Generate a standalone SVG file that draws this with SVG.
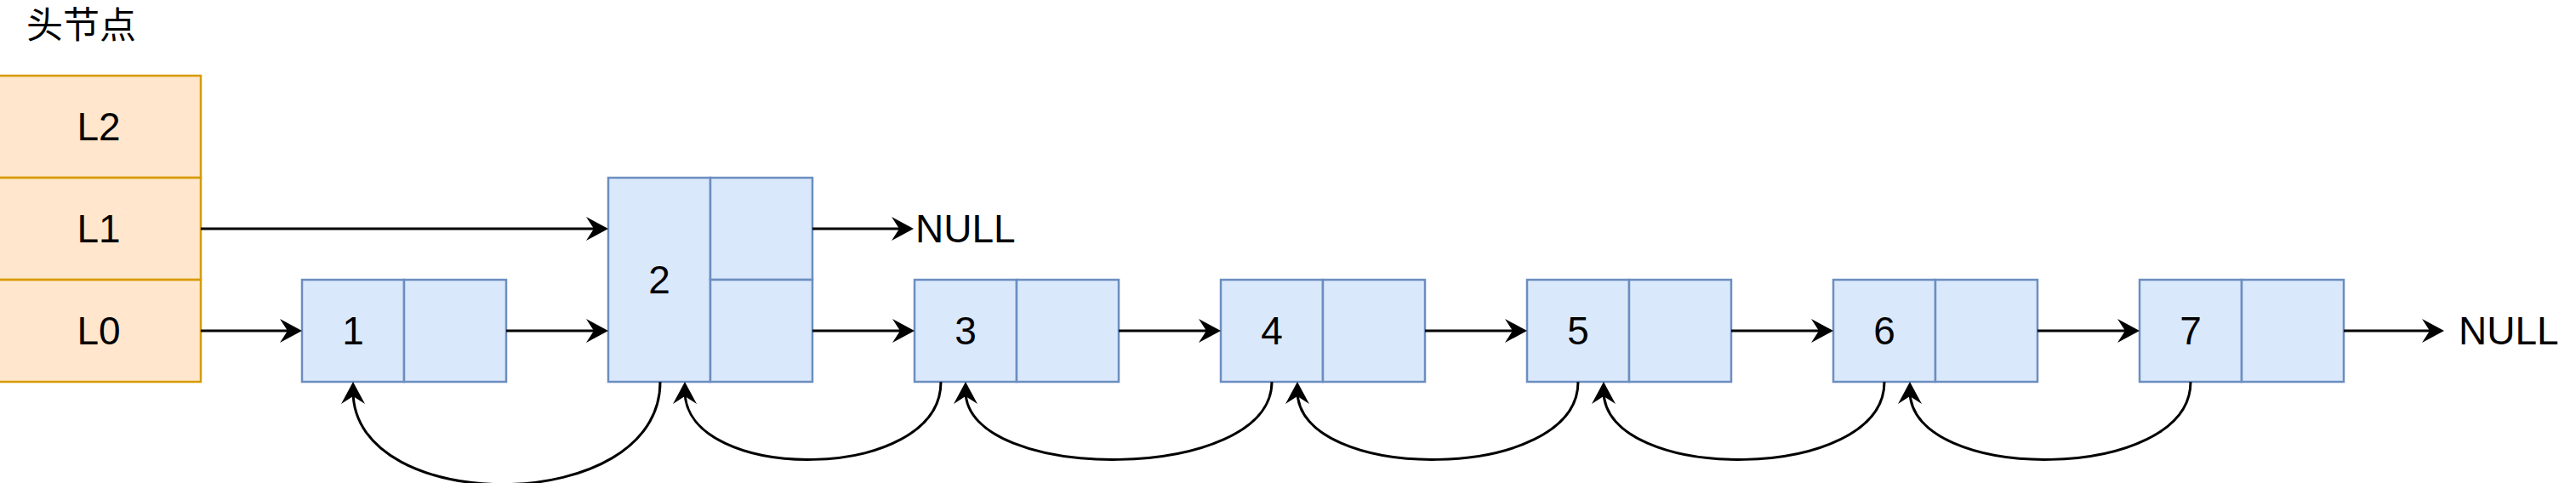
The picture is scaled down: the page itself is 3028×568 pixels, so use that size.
<svg xmlns="http://www.w3.org/2000/svg" width="3028" height="568" viewBox="0 0 3028 568">
<style>
.head{fill:#ffe6cc;stroke:#d79b00;stroke-width:2.5}
.cell{fill:#dae8fc;stroke:#6c8ebf;stroke-width:2.5}
.t{font-family:"Liberation Sans",Arial,sans-serif;font-size:46px;fill:#000;text-anchor:middle}
.tl{font-family:"Liberation Sans",Arial,sans-serif;font-size:46px;fill:#000}
.cn{fill:none;stroke:#000;stroke-width:3}
</style>
<defs>
<marker id="arr" markerUnits="userSpaceOnUse" markerWidth="27" markerHeight="30" refX="15" refY="15" orient="auto">
<path d="M0,1 L26,15 L0,29 L9,15 Z" fill="#000"/>
</marker>
</defs>
<rect width="3028" height="568" fill="#fff"/>
<text x="31" y="45" style="font-family:'Noto Sans CJK SC','Noto Sans',sans-serif;font-size:43px;fill:#000">头节点</text>
<g id="head">
<rect class="head" x="-4" y="89" width="240" height="120"/>
<rect class="head" x="-4" y="209" width="240" height="120"/>
<rect class="head" x="-4" y="329" width="240" height="120"/>
<text class="t" x="116" y="165">L2</text>
<text class="t" x="116" y="285">L1</text>
<text class="t" x="116" y="405">L0</text>
</g>
<g id="node1">
<rect class="cell" x="355" y="329" width="120" height="120"/>
<rect class="cell" x="475" y="329" width="120" height="120"/>
<text class="t" x="415" y="405">1</text>
</g>
<g id="node2">
<rect class="cell" x="715" y="209" width="120" height="240"/>
<rect class="cell" x="835" y="209" width="120" height="120"/>
<rect class="cell" x="835" y="329" width="120" height="120"/>
<text class="t" x="775" y="345">2</text>
</g>
<g id="node3">
<rect class="cell" x="1075" y="329" width="120" height="120"/>
<rect class="cell" x="1195" y="329" width="120" height="120"/>
<text class="t" x="1135" y="405">3</text>
</g>
<g id="node4">
<rect class="cell" x="1435" y="329" width="120" height="120"/>
<rect class="cell" x="1555" y="329" width="120" height="120"/>
<text class="t" x="1495" y="405">4</text>
</g>
<g id="node5">
<rect class="cell" x="1795" y="329" width="120" height="120"/>
<rect class="cell" x="1915" y="329" width="120" height="120"/>
<text class="t" x="1855" y="405">5</text>
</g>
<g id="node6">
<rect class="cell" x="2155" y="329" width="120" height="120"/>
<rect class="cell" x="2275" y="329" width="120" height="120"/>
<text class="t" x="2215" y="405">6</text>
</g>
<g id="node7">
<rect class="cell" x="2515" y="329" width="120" height="120"/>
<rect class="cell" x="2635" y="329" width="120" height="120"/>
<text class="t" x="2575" y="405">7</text>
</g>
<g id="null1"><text class="tl" x="1076" y="285">NULL</text></g>
<g id="null2"><text class="tl" x="2890" y="405">NULL</text></g>
<g id="connectors">
<path class="cn" marker-end="url(#arr)" d="M236,269 H704"/>
<path class="cn" marker-end="url(#arr)" d="M236,389 H344"/>
<path class="cn" marker-end="url(#arr)" d="M595,389 H704"/>
<path class="cn" marker-end="url(#arr)" d="M955,269 H1063"/>
<path class="cn" marker-end="url(#arr)" d="M955,389 H1064"/>
<path class="cn" marker-end="url(#arr)" d="M1315,389 H1424"/>
<path class="cn" marker-end="url(#arr)" d="M1675,389 H1784"/>
<path class="cn" marker-end="url(#arr)" d="M2035,389 H2144"/>
<path class="cn" marker-end="url(#arr)" d="M2395,389 H2504"/>
<path class="cn" marker-end="url(#arr)" d="M2755,389 H2862"/>
<path class="cn" marker-end="url(#arr)" d="M776,449 C776,608 415,608 415,460"/>
<path class="cn" marker-end="url(#arr)" d="M1106,449 C1106,569 805,569 805,460"/>
<path class="cn" marker-end="url(#arr)" d="M1495,449 C1495,569 1135,569 1135,460"/>
<path class="cn" marker-end="url(#arr)" d="M1855,449 C1855,569 1525,569 1525,460"/>
<path class="cn" marker-end="url(#arr)" d="M2215,449 C2215,569 1885,569 1885,460"/>
<path class="cn" marker-end="url(#arr)" d="M2575,449 C2575,569 2245,569 2245,460"/>
</g>
</svg>
